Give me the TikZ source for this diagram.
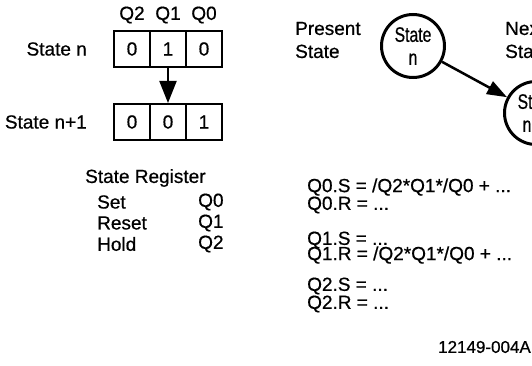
\documentclass[tikz,border=0pt]{standalone}
\usepackage{fontspec}
\setmainfont{Liberation Sans}[FakeBold=0.6]
\usetikzlibrary{arrows.meta}
\tikzset{
  txt/.style={inner sep=0pt, font=\fontsize{19}{23}\selectfont},
  cell/.style={draw, line width=2pt, minimum width=36pt, minimum height=36pt, inner sep=0pt, font=\fontsize{19}{23}\selectfont},
  statecirc/.style={draw, circle, line width=3pt, minimum size=63pt, inner sep=0pt, align=center, font=\fontsize{21}{23}\selectfont},
  eq/.style={txt, anchor=west},
}
\newcommand{\narrowtxt}[1]{\scalebox{0.75}[1]{#1}}
\begin{document}
\begin{tikzpicture}[x=1pt, y=-1pt]
\useasboundingbox (0,0) rectangle (532,366);
\clip (0,0) rectangle (532,366);
\fill[white] (0,0) rectangle (532,366);
% register boxes
\node[txt] (hq2) at (132,15) {Q2};
\node[txt] (hq1) at (168,15) {Q1};
\node[txt] (hq0) at (204,15) {Q0};
\node[cell] (t2) at (132,49) {0};
\node[cell] (t1) at (168,49) {1};
\node[cell] (t0) at (204,49) {0};
\node[cell] (b2) at (132,122) {0};
\node[cell] (b1) at (168,122) {0};
\node[cell] (b0) at (204,122) {1};
\node[txt, anchor=east] (sn) at (87,49) {State n};
\node[txt, anchor=east] (sn1) at (87,122) {State n+1};
\draw[line width=2pt, -{Triangle[length=22pt,width=17pt]}] (t1.south) -- (b1.north);
% state register table
\node[txt, anchor=west] (sr) at (85,178) {State Register};
\node[txt, anchor=west] (set) at (97,202) {Set};
\node[txt, anchor=west] (reset) at (97,223) {Reset};
\node[txt, anchor=west] (hold) at (97,244) {Hold};
\node[txt, anchor=west] (q0) at (198,202) {Q0};
\node[txt, anchor=west] (q1) at (198,223) {Q1};
\node[txt, anchor=west] (q2) at (198,244) {Q2};
% state diagram
\node[txt, anchor=west, align=left] (ps) at (295,40) {Present\\State};
\node[txt, anchor=west, align=left] (ns) at (505,40) {Next\\State};
\node[statecirc] (c1) at (413,46) {\narrowtxt{State}\\\narrowtxt{n}};
\node[statecirc] (c2) at (536,113) {\narrowtxt{State}\\\narrowtxt{n+1}};
\draw[line width=2.5pt, -{Triangle[length=20pt,width=14pt]}] (c1) -- (c2);
% equations
\node[eq] (e1) at (307,187) {Q0.S = /Q2*Q1*/Q0 + ...};
\node[eq] (e2) at (307,205) {Q0.R = ...};
\node[eq] (e3) at (307,240) {Q1.S = ...};
\node[eq] (e4) at (307,255) {Q1.R = /Q2*Q1*/Q0 + ...};
\node[eq] (e5) at (307,286) {Q2.S = ...};
\node[eq] (e6) at (307,304) {Q2.R = ...};
\node[txt, anchor=east, font=\fontsize{17}{20}\selectfont] (id) at (531,347) {12149-004A};
\end{tikzpicture}
\end{document}
